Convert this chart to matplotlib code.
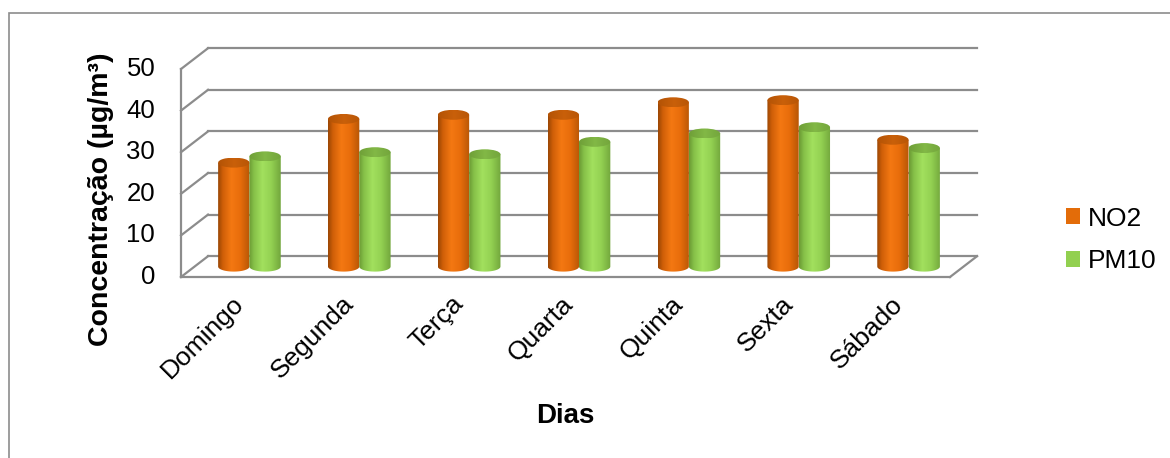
"""
Concentração média de NO2 e PM10 por dia da semana (barras cilíndricas 3D)
"""
import matplotlib.pyplot as plt
import numpy as np
from matplotlib.patches import Ellipse, Polygon, Rectangle, Patch
from matplotlib.colors import LinearSegmentedColormap

# dados
dias = ['Domingo', 'Segunda', 'Terça', 'Quarta', 'Quinta', 'Sexta', 'Sábado']
no2 = [25, 35.5, 36.5, 36.5, 39.5, 40, 30.5]
pm10 = [26.5, 27.5, 27, 30, 32, 33.5, 28.5]
yticks = [0, 10, 20, 30, 40, 50]

plt.rcParams['font.family'] = ['Liberation Sans', 'DejaVu Sans']

fig = plt.figure(figsize=(11.7, 4.58), dpi=100)
ax = fig.add_axes([0, 0, 1, 1])
ax.set_axis_off()

DX, DY = 0.246, 5.0      # deslocamento da parede do fundo (profundidade)
grid_c = '#8c8c8c'
n = len(dias)
x_left, x_right = -0.5, n - 0.5

# parede do fundo + parede lateral esquerda
for v in yticks:
    ax.plot([x_left + DX, x_right + DX], [v + DY, v + DY], color=grid_c, lw=1.6, zorder=1)
    ax.plot([x_left, x_left + DX], [v, v + DY], color=grid_c, lw=1.6, zorder=1)
# eixo vertical da frente e chão
ax.plot([x_left, x_left], [yticks[0], yticks[-1]], color=grid_c, lw=1.6, zorder=1)
ax.plot([x_left, x_right], [0, 0], color=grid_c, lw=1.6, zorder=1)
ax.plot([x_right, x_right + DX], [0, DY], color=grid_c, lw=1.6, zorder=1)

# cores dos cilindros (gradiente horizontal)
cmap_no2 = LinearSegmentedColormap.from_list('no2', [
    (0.0, '#9a4604'), (0.15, '#cf5f08'), (0.42, '#f47812'),
    (0.7, '#e86d0b'), (1.0, '#b65606')])
cmap_pm10 = LinearSegmentedColormap.from_list('pm10', [
    (0.0, '#6a9a34'), (0.15, '#86c048'), (0.42, '#a2e05e'),
    (0.7, '#93d152'), (1.0, '#72a63c')])
cmap_no2_top = LinearSegmentedColormap.from_list('no2t', ['#b35305', '#c9600a', '#b85606'])
cmap_pm10_top = LinearSegmentedColormap.from_list('pm10t', ['#6f9f38', '#82b846', '#73a53c'])

bw = 0.285          # largura de cada cilindro
eh = 2.4            # altura da elipse (unidades de y)
base = 0.5 * DY     # cilindros no meio da profundidade
grad = np.linspace(0, 1, 128).reshape(1, -1)


def cilindro(xc, valor, cmap, cmap_top):
    x0, x1 = xc - bw / 2, xc + bw / 2
    yt = base + valor
    t = np.linspace(np.pi, 2 * np.pi, 40)
    pts = [(x0, yt), (x0, base)]
    pts += list(zip(xc + bw / 2 * np.cos(t), base + eh / 2 * np.sin(t)))
    pts += [(x1, base), (x1, yt)]
    corpo = Polygon(pts, closed=True, facecolor='none', edgecolor='none')
    ax.add_patch(corpo)
    im = ax.imshow(grad, cmap=cmap, extent=[x0, x1, base - eh / 2, yt],
                   aspect='auto', interpolation='bilinear', zorder=2)
    im.set_clip_path(corpo)
    topo = Ellipse((xc, yt), bw, eh, facecolor='none', edgecolor='none')
    ax.add_patch(topo)
    im2 = ax.imshow(grad, cmap=cmap_top, extent=[x0, x1, yt - eh / 2, yt + eh / 2],
                    aspect='auto', interpolation='bilinear', zorder=3)
    im2.set_clip_path(topo)


for i in range(n):
    xc = i + 0.5 * DX
    cilindro(xc - bw / 2, no2[i], cmap_no2, cmap_no2_top)
    cilindro(xc + bw / 2, pm10[i], cmap_pm10, cmap_pm10_top)

# rótulos do eixo y
for v in yticks:
    ax.text(x_left - 0.235, v, str(v), ha='right', va='center', fontsize=18.5)

# rótulos das categorias
for i, d in enumerate(dias):
    ax.text(i + 0.04, -5.6, d, rotation=45, rotation_mode='anchor',
            ha='right', va='center', fontsize=19)

ax.text(-1.23, 18.8, 'Concentração (µg/m³)', rotation=90,
        ha='center', va='center', fontsize=20.5, fontweight='bold')
ax.text((x_left + x_right) / 2, -33.5, 'Dias', ha='center', va='center',
        fontsize=20, fontweight='bold')

handles = [Patch(facecolor='#e36c09', label='NO2'),
           Patch(facecolor='#92d050', label='PM10')]
ax.legend(handles=handles, loc='center left', bbox_to_anchor=(1042 / 1170, 1 - 240 / 458),
          bbox_transform=fig.transFigure, frameon=False, fontsize=19,
          handlelength=0.55, handleheight=0.55, handletextpad=0.3, labelspacing=0.7)

# moldura externa
fig.add_artist(Rectangle((9 / 1170, -0.1), 1.2, 1.1 - 13 / 458, transform=fig.transFigure,
                         facecolor='none', edgecolor='#8c8c8c', lw=1.2))

ax.set_xlim(-2.1476, 8.5026)
ax.set_ylim(-43.51, 66.59)
plt.savefig('out.png', dpi=100)
